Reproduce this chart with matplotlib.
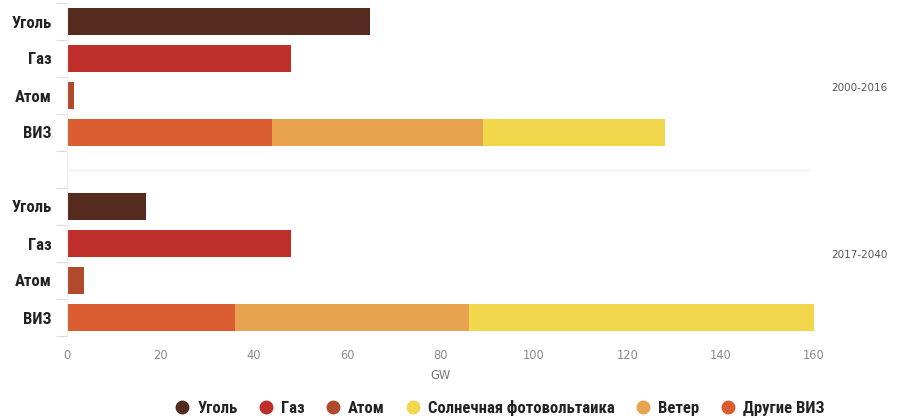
import matplotlib
matplotlib.use("Agg")
import matplotlib.pyplot as plt
from matplotlib.lines import Line2D
import matplotlib.transforms as mtransforms
import numpy as np

# Capacity additions, GW
periods = ["2000-2016", "2017-2040"]
sources = ["Уголь", "Газ", "Атом", "ВИЗ"]

coal = [65, 17]
gas = [48, 48]
nuclear = [1.5, 3.6]
other_res = [44, 36]
wind = [45, 50]
solar_pv = [39, 74]

legend_labels = ["Уголь", "Газ", "Атом", "Солнечная фотовольтаика", "Ветер", "Другие ВИЗ"]
x_ticks = [0, 20, 40, 60, 80, 100, 120, 140, 160]

c_coal = "#552a1f"
c_gas = "#be2e2a"
c_nuc = "#b1492c"
c_other = "#d95d31"
c_wind = "#e8a34f"
c_solar = "#f2d64b"

fig = plt.figure(figsize=(9.03, 4.18), dpi=100)
ax = fig.add_axes([67 / 903, 1 - 336 / 418, 747 / 903, 333 / 418])

bar_h = 0.74
label_font = dict(family=["Roboto Condensed", "DejaVu Sans"], weight="bold")

ypos = []
ylabels = []
caption_rows = [1.8, 6.3]
blend = mtransforms.blended_transform_factory(ax.transAxes, ax.transData)
for p in range(len(periods)):
    base = p * 5
    rows = {s: base + i for i, s in enumerate(sources)}
    ax.barh(rows["Уголь"], coal[p], height=bar_h, color=c_coal)
    ax.barh(rows["Газ"], gas[p], height=bar_h, color=c_gas)
    ax.barh(rows["Атом"], nuclear[p], height=bar_h, color=c_nuc)
    r = rows["ВИЗ"]
    ax.barh(r, other_res[p], height=bar_h, color=c_other)
    ax.barh(r, wind[p], left=other_res[p], height=bar_h, color=c_wind)
    ax.barh(r, solar_pv[p], left=other_res[p] + wind[p], height=bar_h, color=c_solar)
    for s in sources:
        ypos.append(rows[s])
        ylabels.append(s)
    # period caption on the right
    ax.text(1.023, caption_rows[p], periods[p], transform=blend,
            ha="left", va="center", fontsize=7.5, color="#555555")

# separator between periods
ax.axhline(4, xmin=0, xmax=0.995, color="#eeeeee", linewidth=1.0, zorder=0)

ax.set_xlim(0, 160)
ax.set_ylim(8.5, -0.5)
ax.set_xticks(x_ticks)
ax.set_xticklabels([str(v) for v in x_ticks], fontsize=8.3, color="#8a8a8a")
ax.set_yticks(ypos)
ax.set_yticklabels(ylabels, fontsize=12, color="#222222", **label_font)
ax.set_yticks(np.arange(-0.5, 9.0, 1.0), minor=True)
ax.tick_params(axis="y", which="major", length=0, pad=10.8)
ax.tick_params(axis="y", which="minor", length=8, color="#dddddd", width=0.8)
ax.tick_params(axis="x", length=0, pad=9.5)
ax.set_xlabel("GW", fontsize=8.3, color="#777777", labelpad=5)

for side in ["top", "right", "bottom"]:
    ax.spines[side].set_visible(False)
ax.spines["left"].set_color("#eeeeee")

handles = [Line2D([], [], marker="o", linestyle="", markersize=9, color=c)
           for c in [c_coal, c_gas, c_nuc, c_solar, c_wind, c_other]]
leg = fig.legend(handles, legend_labels, loc="center", bbox_to_anchor=(500 / 903, 1 - 408 / 418),
                 ncol=6, frameon=False, handlelength=0.8, handletextpad=0.5, columnspacing=1.3,
                 prop=dict(size=12, **label_font))
for t in leg.get_texts():
    t.set_color("#222222")

fig.savefig("out.png", dpi=100, facecolor="white")
